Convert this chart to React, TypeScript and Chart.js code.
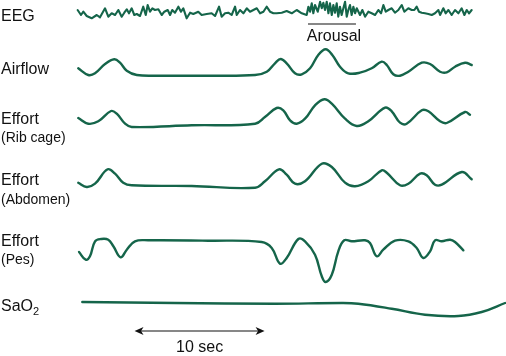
import React, { useEffect, useRef } from "react";
import { Chart, registerables } from "chart.js";
Chart.register(...registerables);

// ---- data: time in seconds, amplitude in trace units (up = positive) ----
const eegT = [-0.03,0.23,0.41,0.67,1.05,1.44,1.69,2.08,2.33,2.59,2.85,3.1,3.36,3.56,3.75,3.92,4.13,4.33,4.52,4.77,5.02,5.21,5.36,5.54,5.72,5.92,6.18,6.44,6.64,6.9,7.08,7.25,7.46,7.72,7.92,8.1,8.36,8.62,8.87,9.25,9.51,9.9,10.28,10.54,10.85,11.05,11.31,11.56,11.82,12.08,12.21,12.46,12.72,12.98,13.23,13.49,13.75,14,14.26,14.51,14.77,15.03,
15.28,15.67,16.05,16.44,16.82,17.21,17.59,17.72,17.85,17.98,18.1,18.23,18.44,18.62,18.75,18.87,19,19.13,19.26,19.38,19.52,19.64,19.77,19.9,20.02,20.15,20.28,20.41,20.54,20.67,20.79,20.92,21.05,21.18,21.31,21.44,21.69,21.87,22.08,22.33,22.59,22.85,23.1,23.31,23.49,23.67,23.87,24.13,24.38,24.64,24.9,25.1,25.41,25.67,25.87,26.05,26.23,26.44,26.69,26.95,27.21,27.46,27.72,27.85,28.1,28.28,28.49,28.74,29,29.26,29.51,29.72,29.9,30.08,30.28];
const eegV = [2,-3,0.3,-4,-6.3,-3,-5.3,3.7,-4.7,-1.3,-3,2,-4.7,-0.7,2.7,-1.3,3.7,-3,-2,-4,5.3,-3,7,0.3,3.7,2,2.7,-3,0.3,2,-3,2,-0.7,5.3,0.3,3.7,-6.3,-0.7,-2,0.3,-3,-2,-1.3,-4,5.3,-4.7,-1.3,-0.7,-3,5.3,-3,2,-1.3,3.7,0.3,2,3.7,-1.3,0.3,5.3,0.3,-1.3,
-1.3,-0.7,1,-1.3,2,-1.3,-3,5.3,0.3,8.7,-1.3,7,0.3,10.3,3.7,9.3,2,10.3,-1.3,8.7,-3,7,-0.7,8.7,-4.7,5.3,-3,3.7,10.3,-4.7,2,7,-3,5.3,-1.3,3.7,-3,2,-4.7,0.3,-1.3,-3,2,-1.3,7,0.3,2,3.7,-0.7,2,7,0.3,3.7,2,2,5.3,0.3,-0.7,-1.3,-2,-3,-1.3,2,-3,3.7,-1.3,2,-3,2,-1.3,3.7,-3,2,-1.3,2];

const airT = [0.02,0.79,1.31,2.08,2.79,3.23,3.75,4.52,6.15,10,13.62,14.52,15.15,15.59,16.05,16.69,17.21,17.85,18.48,19.05,19.56,20.15,20.79,21.69,22.59,23.36,23.75,24.25,24.77,25.41,26.44,27.08,27.85,28.36,29,29.77,30.28];
const airV = [1.7,-5,-3.3,6,10.7,7.3,-0.7,-5,-5.7,-5.7,-5,-1.7,6.7,11,6.7,-3.3,-4.3,1.7,15,20.7,15,3.3,-3.3,-2.7,1.7,8.3,5,-4.3,-5.7,-1.7,7.3,6,-1.7,-2.3,3.3,7.3,5];

const ribT = [0.02,0.79,1.56,2.54,2.98,3.62,4.13,8.75,13.62,14.38,15.28,15.79,16.31,16.82,17.46,18.23,18.95,19.52,20.54,21.44,22.33,23.62,24.13,24.77,25.28,26.44,26.95,27.85,28.36,29.77,30.15];
const ribV = [0,-5.7,-3.3,7,4.3,-5.7,-9,-7.3,-5.7,1,10,7.7,-2.3,-5.7,-0.7,12.7,18.7,14.3,-0.7,-8,-3.3,10.3,6.7,-4.7,-5.7,7.7,6.7,-3.3,-5,6,3.3];

const abdT = [0.02,0.67,1.31,2.28,2.85,3.48,4.13,8.75,13.62,14.38,15.46,16.05,16.69,17.46,18.75,19.52,20.54,21.31,22.33,23.36,23.75,24.77,25.41,26.31,26.82,27.46,27.98,29.52,30.28];
const abdV = [-2.7,-7,-3.7,10.7,6.3,-2.7,-5.3,-6,-7.7,-1.3,10.7,5.3,-3.7,-1.3,16.3,13,-2.7,-6.3,-1.3,9.7,7.3,-5.3,-3.7,6.3,4.7,-4.7,-4.7,8,0.7];

const pesT = [0.08,0.59,0.92,1.31,1.77,2.33,2.72,3.28,3.75,4.38,5.41,10.02,14.13,14.9,15.54,16.05,16.95,17.46,18.23,18.75,19.05,19.52,20.02,20.48,21.05,22.08,22.46,22.98,23.48,24.38,25.41,26.05,26.56,27.08,27.46,27.98,28.62,29,29.64];
const pesV = [-7,-14.7,-11.3,3.7,6,5.3,-1.3,-12.3,-4.7,3.7,4.7,4.3,3,-3,-18.7,-13,6,3.7,-9.7,-31.3,-37,-29.7,-6.3,4.7,3.7,4.7,2,-11.3,-4.7,4.3,3.7,-3,-13,-6.3,4.7,3.7,5.3,3,-5.3];

const saoT = [0.33,7.46,15.15,20.28,21.56,24.13,26.69,29.25,31.05,32.85];
const saoV = [3,2,1.3,2,1.3,-3.7,-9.7,-11,-7,2];

const arousalStart = 17.69;
const arousalEnd = 21.38;
const scaleStart = 4.35;
const scaleSeconds = 10;

// ---- layout (separate from data) ----
const W = 506, H = 356;
const X_MIN = -6, X_MAX = 32.92;
const GREEN = "#15654a";
const ROWS = [
  { t: eegT, v: eegV, base: 12, width: 2.1, smooth: false },
  { t: airT, v: airV, base: 70, width: 2.4, smooth: true },
  { t: ribT, v: ribV, base: 118, width: 2.4, smooth: true },
  { t: abdT, v: abdV, base: 180, width: 2.4, smooth: true },
  { t: pesT, v: pesV, base: 245, width: 2.4, smooth: true },
  { t: saoT, v: saoV, base: 305, width: 2.4, smooth: true },
];

const FONT = '"Liberation Sans", Arial, Helvetica, sans-serif';

const textPlugin = {
  id: "labels",
  afterDraw(chart: any) {
    const ctx = chart.ctx as CanvasRenderingContext2D;
    const xs = chart.scales.x;
    const ys = chart.scales.y;
    ctx.save();
    ctx.fillStyle = "#111";
    ctx.textBaseline = "alphabetic";
    ctx.textAlign = "left";
    const big = (s: string, x: number, y: number) => {
      ctx.font = `16px ${FONT}`;
      ctx.fillText(s, x, ys.getPixelForValue(y));
    };
    const small = (s: string, x: number, y: number) => {
      ctx.font = `14px ${FONT}`;
      ctx.fillText(s, x, ys.getPixelForValue(y));
    };
    big("EEG", 1, 21);
    big("Airflow", 1, 74);
    big("Effort", 1, 123.5);
    small("(Rib cage)", 1, 142);
    big("Effort", 1, 185);
    small("(Abdomen)", 1, 204);
    big("Effort", 1, 245.5);
    small("(Pes)", 1, 264);
    big("SaO", 1, 311);
    ctx.font = `16px ${FONT}`;
    const w = ctx.measureText("SaO").width;
    ctx.font = `11px ${FONT}`;
    ctx.fillText("2", 1 + w, ys.getPixelForValue(314.5));

    // Arousal bar & label
    const a0 = xs.getPixelForValue(arousalStart);
    const a1 = xs.getPixelForValue(arousalEnd);
    ctx.strokeStyle = "#111";
    ctx.lineWidth = 1.2;
    ctx.beginPath();
    ctx.moveTo(a0, ys.getPixelForValue(24));
    ctx.lineTo(a1, ys.getPixelForValue(24));
    ctx.stroke();
    ctx.font = `16px ${FONT}`;
    ctx.textAlign = "center";
    ctx.fillText("Arousal", (a0 + a1) / 2 + 2, ys.getPixelForValue(40.5));

    // 10 sec scale arrow
    const s0 = xs.getPixelForValue(scaleStart);
    const s1 = xs.getPixelForValue(scaleStart + scaleSeconds);
    const sy = ys.getPixelForValue(331);
    ctx.lineWidth = 1.2;
    ctx.beginPath();
    ctx.moveTo(s0 + 4, sy);
    ctx.lineTo(s1 - 4, sy);
    ctx.stroke();
    const head = (xTip: number, dir: number) => {
      ctx.beginPath();
      ctx.moveTo(xTip, sy);
      ctx.lineTo(xTip + dir * 9, sy - 4);
      ctx.lineTo(xTip + dir * 6.5, sy);
      ctx.lineTo(xTip + dir * 9, sy + 4);
      ctx.closePath();
      ctx.fill();
    };
    head(s0, 1);
    head(s1, -1);
    ctx.fillText(`${scaleSeconds} sec`, (s0 + s1) / 2, ys.getPixelForValue(352));
    ctx.restore();
  },
};

export default function App() {
  const ref = useRef<HTMLCanvasElement | null>(null);
  useEffect(() => {
    document.body.style.margin = "0";
    const canvas = ref.current!;
    const chart = new Chart(canvas, {
      type: "line",
      data: {
        datasets: ROWS.map((r) => ({
          data: r.t.map((x, i) => ({ x, y: r.base - r.v[i] })),
          borderColor: GREEN,
          borderWidth: r.width,
          pointRadius: 0,
          fill: false,
          tension: r.smooth ? 0.4 : 0,
          borderJoinStyle: "round",
          borderCapStyle: "round",
          clip: false,
        })) as any,
      },
      options: {
        responsive: false,
        animation: false,
        layout: { padding: 0 },
        plugins: { legend: { display: false }, tooltip: { enabled: false } },
        events: [],
        scales: {
          x: { type: "linear", min: X_MIN, max: X_MAX, display: false },
          y: { type: "linear", min: 0, max: H, reverse: true, display: false },
        },
      },
      plugins: [textPlugin],
    });
    return () => chart.destroy();
  }, []);
  return (
    <div style={{ width: W, height: H, background: "#fff" }}>
      <canvas ref={ref} width={W} height={H} style={{ display: "block" }} />
    </div>
  );
}
